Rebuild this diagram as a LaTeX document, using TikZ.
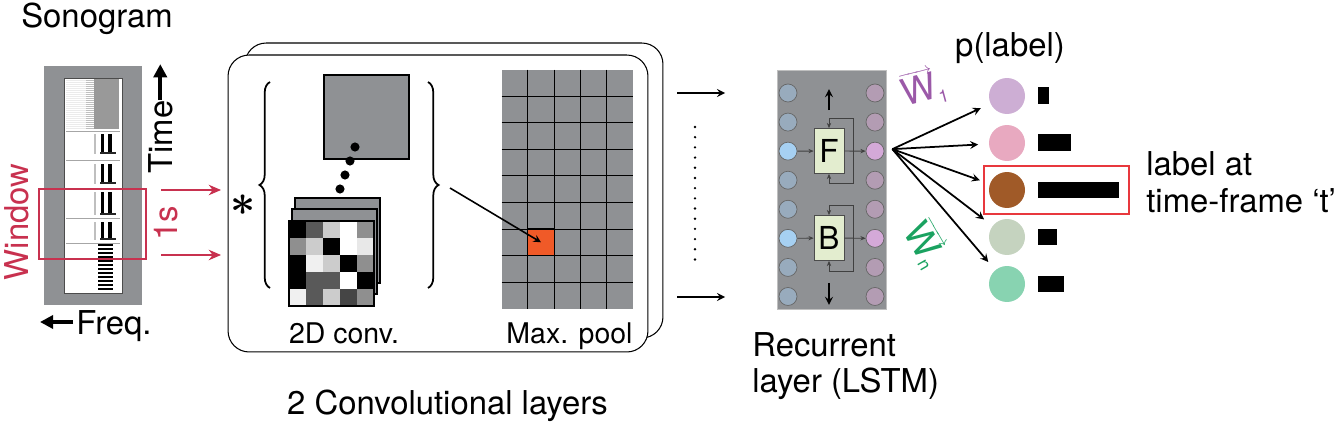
\documentclass[tikz,border=0pt]{standalone}
\usepackage{fontspec}
\setmainfont{TeX Gyre Heros}
\usepackage{bm}
\usepackage{xcolor}
\usepackage{tikz}
\usetikzlibrary{shapes.geometric, arrows, arrows.meta, positioning, fit, calc, decorations.pathreplacing}

\definecolor{sonogray}{HTML}{8F9194}
\definecolor{winred}{HTML}{C8314F}
\definecolor{hlred}{HTML}{E8383D}
\definecolor{poolorange}{HTML}{F05A28}
\definecolor{gatefill}{HTML}{E3EDCF}
\definecolor{inmuted}{HTML}{98ABBD}
\definecolor{inbright}{HTML}{A6D0F2}
\definecolor{outmuted}{HTML}{B39CB3}
\definecolor{outbright}{HTML}{D4A9D8}
\definecolor{wpurple}{HTML}{9B59A8}
\definecolor{wgreen}{HTML}{1AA260}
\definecolor{outA}{HTML}{CDAED4}
\definecolor{outB}{HTML}{E8A9C0}
\definecolor{outC}{HTML}{A05A28}
\definecolor{outD}{HTML}{C5D3BF}
\definecolor{outE}{HTML}{88D3B1}

\newcommand{\bigfont}{\fontsize{18.7}{21}\selectfont}
\newcommand{\smallfont}{\fontsize{16.2}{19}\selectfont}
\newcommand{\wfont}{\fontsize{21}{21}\selectfont}

\begin{document}
\begin{tikzpicture}[x=0.02cm, y=-0.02cm, >=stealth,
    txt/.style={font=\bigfont, inner sep=0pt},
    smalltxt/.style={font=\smallfont, inner sep=0pt},
    fat arrow/.style={line width=2.5pt, -{Triangle[length=7.5pt,width=7.5pt]}},
    red arrow/.style={draw=winred, line width=0.8pt, -{Stealth[length=7pt,width=6pt]}},
    layer box/.style={draw, rounded corners=12pt, fill=white, line width=0.6pt},
    grayfield/.style={fill=sonogray, inner sep=0pt},
    kernel sq/.style={draw, fill=sonogray, line width=0.6pt, minimum size=1.7cm, inner sep=0pt},
    lstm unit/.style={circle, draw=black!60, line width=0.4pt, minimum size=0.36cm, inner sep=0pt},
    gate box/.style={draw=black!70, line width=0.4pt, fill=gatefill, minimum width=0.6cm, minimum height=0.9cm, inner sep=0pt, font=\fontsize{18}{18}\selectfont},
    gate arrow/.style={draw=black!75, line width=0.5pt, -{Stealth[length=3pt,width=2.5pt]}},
    gate loop/.style={draw=black!75, line width=0.5pt, {Stealth[length=3pt,width=2.5pt]}-{Stealth[length=3pt,width=2.5pt]}},
    out unit/.style={circle, minimum size=0.72cm, inner sep=0pt},
    prob bar/.style={fill=black, minimum height=0.34cm, inner sep=0pt},
    fan arrow/.style={->, line width=1pt, shorten >=6pt}]
    \useasboundingbox (0,0) rectangle (1339,432);

    % sonogram
    \node[txt, anchor=base] (sonotitle) at (97,28) {Sonogram};
    \node[grayfield, minimum width=1.96cm, minimum height=4.78cm] (sono) at (93,185.5) {};
    \node[draw=black!70, fill=white, line width=0.5pt, minimum width=1.16cm, minimum height=4.3cm, inner sep=0pt] (sonoimg) at (93,185.5) {};
    \foreach \y in {80,82,...,128} {
        \draw[black!8, line width=0.4pt] (66,\y) -- (86,\y);
        \draw[black!25, line width=0.5pt] (86,\y) -- (94,\y);
        \draw[black!40, line width=0.6pt] (94,\y) -- (119,\y);
    }
    \foreach \y in {131,160,189,218,243}
        \draw[black!35, line width=0.3pt] (66,\y) -- (120,\y);
    \foreach \t/\b in {134/154, 164/184, 192/215, 222/240} {
        \fill[black!25] (94,\t) rectangle (96,\b);
        \fill[black] (101,\t) rectangle (104,\b);
        \fill[black] (108,\t) rectangle (111.5,\b);
        \fill[black!85] (100,{\b-2}) rectangle (116,\b);
    }
    \foreach \y in {245,249,...,289}
        \draw[black, line width=1.2pt] (98,\y) -- (113,\y);

    \node[txt, rotate=90, anchor=base] (time) at (172,137) {Time};
    \draw[fat arrow] (time.east) -- ++(0,-36);
    \node[txt, anchor=base west] (freq) at (76,335) {Freq.};
    \draw[fat arrow] (freq.base west) ++(-3,-13) -- ++(-33,0);

    \node[draw=winred, line width=1pt, minimum width=2.14cm, minimum height=1.4cm, inner sep=0pt] (win) at (92.5,224) {};
    \node[txt, text=winred, rotate=90, anchor=base] (wintxt) at (29,222) {Window};
    \node[txt, text=winred, rotate=90, anchor=base] (onesec) at (177,223) {1s};
    \coordinate (wintop) at (161,190);
    \coordinate (winbot) at (161,255);

    % convolutional layers
    \node[layer box, minimum width=8.36cm, minimum height=5.9cm] (convback) at (454,190.5) {};
    \node[layer box, minimum width=8.4cm, minimum height=5.94cm] (conv) at (438,203.5) {};
    \coordinate (convtop) at (221,190);
    \coordinate (convbot) at (221,255);
    \draw[red arrow] (wintop) -- (convtop);
    \draw[red arrow] (winbot) -- (convbot);

    \node[inner sep=0pt, font=\fontsize{34}{34}\selectfont] (star) at (243,205) {$\bm{\ast}$};
    \draw[line width=1pt, decorate, decoration={brace, amplitude=6pt}] (270,288) -- (270,82);
    \draw[line width=1pt, decorate, decoration={brace, amplitude=6pt}] (428,82) -- (428,288);

    \node[kernel sq, minimum height=1.68cm] (fmap) at (366.5,117) {};
    \foreach \px/\py in {355/147, 350/161, 345/175, 340/189}
        \fill (\px,\py) circle[radius=2.6pt];

    \node[kernel sq] (kback) at (337.5,240.5) {};
    \node[kernel sq] (kmid) at (334.5,251.5) {};
    \foreach \r/\vals in {0/{100,65,20,0,44}, 1/{44,20,100,0,9}, 2/{100,6,20,100,44},
                          3/{100,65,65,0,100}, 4/{6,65,20,73,44}} {
        \foreach \v [count=\c from 0] in \vals
            \fill[black!\v] ({289+\c*17},{221+\r*17}) rectangle ++(17,17);
    }
    \node[draw, line width=0.6pt, minimum size=1.7cm, inner sep=0pt] (kfront) at (331.5,263.5) {};

    \node[grayfield, minimum width=2.62cm, minimum height=4.78cm] (pool) at (567.5,189.5) {};
    \foreach \k in {1,...,4}
        \draw[line width=0.6pt] ($(pool.north west)+({\k*26.2},0)$) -- ($(pool.south west)+({\k*26.2},0)$);
    \foreach \k in {1,...,8}
        \draw[line width=0.6pt] ($(pool.north west)+(0,{\k*26.56})$) -- ($(pool.north east)+(0,{\k*26.56})$);
    \node[draw, fill=poolorange, line width=0.6pt, minimum width=0.524cm, minimum height=0.531cm, inner sep=0pt] (maxcell) at ($(pool.north west)+(39.3,172.6)$) {};
    \coordinate (convout) at (450,188);
    \draw[->, line width=0.9pt] (convout) -- (maxcell.center);

    \node[smalltxt, anchor=base] (convtxt) at (344,343) {2D conv.};
    \node[smalltxt, anchor=base] (pooltxt) at (569.5,343) {Max. pool};
    \node[txt, anchor=base] (convlabel) at (447.5,414) {2 Convolutional layers};

    % into the recurrent layer
    \coordinate (seqtop) at (677,93);
    \coordinate (seqtopend) at (725,93);
    \coordinate (seqbot) at (677,297);
    \coordinate (seqbotend) at (725,297);
    \draw[->, line width=1pt] (seqtop) -- (seqtopend);
    \draw[->, line width=1pt] (seqbot) -- (seqbotend);
    \draw[line width=1.5pt, dash pattern=on 0pt off 5.8pt, line cap=round] (695,127) -- (695,262);

    % recurrent layer
    \node[grayfield, draw=black!25, line width=0.4pt, minimum width=2.18cm, minimum height=4.78cm] (lstm) at (831.5,189.5) {};
    \foreach \i in {0,1,3,4,6,7} {
        \node[lstm unit, fill=inmuted] (l\i) at (788,{93+\i*29.07}) {};
        \node[lstm unit, fill=outmuted] (r\i) at (875,{93+\i*29.07}) {};
    }
    \foreach \i in {2,5} {
        \node[lstm unit, fill=inbright] (l\i) at (788,{93+\i*29.07}) {};
        \node[lstm unit, fill=outbright] (r\i) at (875,{93+\i*29.07}) {};
    }
    \node[gate box] (F) at (829,151) {F};
    \node[gate box] (B) at (829,238) {B};
    \draw[gate arrow] (l2) -- (F);
    \draw[gate arrow] (F) -- (r2);
    \draw[gate arrow] (l5) -- (B);
    \draw[gate arrow] (B) -- (r5);
    \draw[gate loop] (F.north) -- ++(0,-10) -- ++(24,0) -- ++(0,65) -- ++(-24,0) -- (F.south);
    \draw[gate loop] (B.north) -- ++(0,-10) -- ++(24,0) -- ++(0,66) -- ++(-24,0) -- (B.south);
    \draw[->, line width=1pt] ($(F.north)+(0,-18)$) -- ($(F.north)+(0,-39)$);
    \draw[->, line width=1pt] ($(B.south)+(0,22)$) -- ($(B.south)+(0,44)$);

    \node[txt, anchor=base west] (rec1) at (752,357) {Recurrent};
    \node[txt, anchor=base west] (rec2) at (752,392) {layer (LSTM)};

    % output labels
    \node[txt, anchor=base] (ptitle) at (1010,57) {p(label)};
    \foreach \c/\w [count=\k] in {outA/0.22, outB/0.66, outC/1.62, outD/0.38, outE/0.52} {
        \node[out unit, fill=\c] (o\k) at (1007,{96+(\k-1)*47}) {};
        \node[prob bar, minimum width=\w cm, right=0.24cm of o\k] (bar\k) {};
    }
    \node[draw=hlred, line width=0.6pt, minimum width=2.9cm, minimum height=0.96cm, inner sep=0pt] (pick) at (1056.5,190) {};
    \node[txt, anchor=base west] (pick1) at (1146,176) {label at};
    \node[txt, anchor=base west] (pick2) at (1146,213) {time-frame ‘t’};

    \coordinate (hub) at ($(r2.east)+(8,-2)$);
    \foreach \k in {1,...,5}
        \draw[fan arrow] (hub) -- (o\k);

    \node[text=wpurple, rotate=15, inner sep=0pt] (w1) at (924,88)
        {$\overrightarrow{\hbox{\wfont W}}_{\hbox{\fontsize{10}{10}\selectfont 1}}$};
    \node[text=wgreen, rotate=-60, inner sep=0pt] (wn) at (926,244)
        {$\overrightarrow{\hbox{\wfont W}}_{\hbox{\fontsize{10}{10}\selectfont n}}$};
\end{tikzpicture}
\end{document}
